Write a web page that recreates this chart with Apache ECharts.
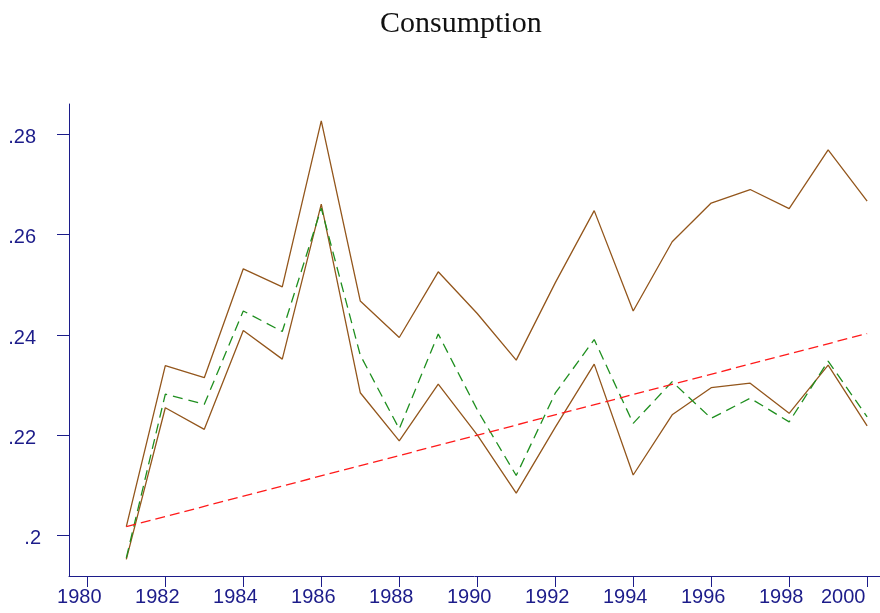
<!DOCTYPE html>
<html>
<head>
<meta charset="utf-8">
<script src="https://cdn.jsdelivr.net/npm/echarts@6/dist/echarts.min.js"></script>
<style>
  html, body { margin: 0; padding: 0; background: #fff; }
  #main { width: 880px; height: 613px; }
</style>
</head>
<body>
<div id="main"></div>
<script>
// data
var years = [1981, 1982, 1983, 1984, 1985, 1986, 1987, 1988, 1989, 1990,
             1991, 1992, 1993, 1994, 1995, 1996, 1997, 1998, 1999, 2000];
var upper = [0.2018, 0.2339, 0.2315, 0.2532, 0.2496, 0.2827, 0.2468, 0.2395, 0.2526, 0.2443,
             0.2350, 0.2504, 0.2648, 0.2448, 0.2586, 0.2663, 0.2690, 0.2652, 0.2769, 0.2667];
var middle = [0.1956, 0.2282, 0.2262, 0.2448, 0.2407, 0.2653, 0.2360, 0.2213, 0.2402, 0.2251,
              0.2120, 0.2284, 0.2391, 0.2224, 0.2307, 0.2234, 0.2274, 0.2227, 0.2348, 0.2237];
var lower = [0.1953, 0.2255, 0.2212, 0.2409, 0.2352, 0.2661, 0.2285, 0.2189, 0.2302, 0.2201,
             0.2085, 0.2216, 0.2342, 0.2121, 0.2241, 0.2295, 0.2304, 0.2244, 0.2340, 0.2219];
var trendYears = [1981, 2000];
var trend = [0.2018, 0.2403];

var xTicks = [1980, 1982, 1984, 1986, 1988, 1990, 1992, 1994, 1996, 1998, 2000];
var yTicks = [0.2, 0.22, 0.24, 0.26, 0.28];

function pairs(xs, ys) {
  return xs.map(function (x, i) { return [x, ys[i]]; });
}

var navy = '#1c1c8a';
var brown = '#93561c';

var myChart = echarts.init(document.getElementById('main'));

var option = {
  animation: false,
  title: {
    text: 'Consumption',
    left: 375,
    top: 4,
    textStyle: {
      fontFamily: 'Liberation Serif',
      fontWeight: 'normal',
      fontSize: 30,
      color: '#111'
    }
  },
  grid: {
    left: 69,
    right: 0,
    top: 104,
    bottom: 37,
    outerBoundsMode: 'none',
    containLabel: false
  },
  xAxis: {
    type: 'value',
    min: 1979.53,
    max: 2000.33,
    splitLine: { show: false },
    axisLine: { lineStyle: { color: navy, width: 1 } },
    axisTick: { customValues: xTicks, length: 11, lineStyle: { color: navy } },
    axisLabel: {
      customValues: xTicks,
      color: navy,
      fontFamily: 'Liberation Sans',
      fontSize: 20,
      margin: 11,
      hideOverlap: false,
      formatter: function (v) {
        return v === 2000 ? '{e|' + v + '}' : '{n|' + v + '}';
      },
      rich: {
        n: { color: navy, fontFamily: 'Liberation Sans', fontSize: 20, padding: [0, 16, 0, 0] },
        e: { color: navy, fontFamily: 'Liberation Sans', fontSize: 20, padding: [0, 48, 0, 0] }
      }
    }
  },
  yAxis: {
    type: 'value',
    min: 0.19197,
    max: 0.28605,
    splitLine: { show: false },
    axisLine: { show: true, lineStyle: { color: navy, width: 1 } },
    axisTick: { show: true, customValues: yTicks, length: 12, lineStyle: { color: navy } },
    axisLabel: {
      customValues: yTicks,
      color: navy,
      fontFamily: 'Liberation Sans',
      fontSize: 20,
      margin: 28,
      formatter: function (v) {
        var s = String(Number(v.toFixed(2))).replace(/^0/, '');
        return s === '.2' ? '{s|' + s + '}' : '{n|' + s + '}';
      },
      rich: {
        s: { color: navy, fontFamily: 'Liberation Sans', fontSize: 20, padding: [6, 0, 0, 0] },
        n: { color: navy, fontFamily: 'Liberation Sans', fontSize: 20, padding: [6, 5, 0, 0] }
      }
    }
  },
  series: [
    {
      name: 'upper',
      type: 'line',
      data: pairs(years, upper),
      showSymbol: false,
      lineStyle: { color: brown, width: 1.3 }
    },
    {
      name: 'lower',
      type: 'line',
      data: pairs(years, lower),
      showSymbol: false,
      lineStyle: { color: brown, width: 1.3 }
    },
    {
      name: 'middle',
      type: 'line',
      data: pairs(years, middle),
      showSymbol: false,
      lineStyle: { color: '#1f8f1f', width: 1.3, type: [10, 6] }
    },
    {
      name: 'trend',
      type: 'line',
      data: pairs(trendYears, trend),
      showSymbol: false,
      lineStyle: { color: '#ff1a1a', width: 1.3, type: [10, 5] }
    }
  ]
};

myChart.setOption(option);
</script>
</body>
</html>
